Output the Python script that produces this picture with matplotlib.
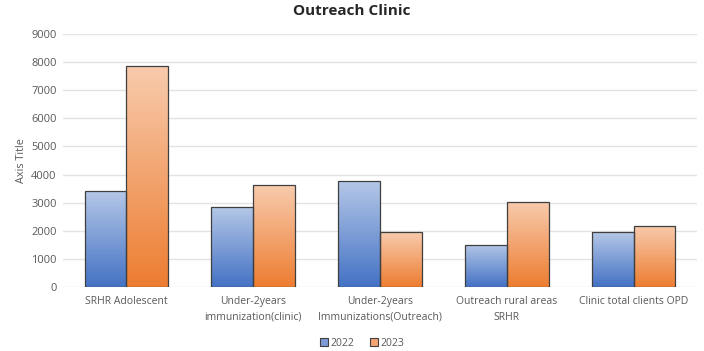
import numpy as np
import matplotlib
matplotlib.use("Agg")
import matplotlib.pyplot as plt
from matplotlib.colors import LinearSegmentedColormap
from matplotlib.patches import Patch

plt.rcParams['font.family'] = ['Open Sans', 'DejaVu Sans']

categories = ["SRHR Adolescent", "Under-2years\nimmunization(clinic)",
              "Under-2years\nImmunizations(Outreach)", "Outreach rural areas\nSRHR",
              "Clinic total clients OPD"]
series_names = ["2022", "2023"]
values_2022 = [3410, 2840, 3760, 1510, 1940]
values_2023 = [7860, 3620, 1940, 3040, 2170]
yticks = [0, 1000, 2000, 3000, 4000, 5000, 6000, 7000, 8000, 9000]

# light top -> saturated bottom
grad = {
    "2022": ("#4472c4", "#b4c7e7"),
    "2023": ("#ed7d31", "#f8cbad"),
}

fig = plt.figure(figsize=(7.04, 3.51), dpi=100)
ax = fig.add_axes([63 / 704, 1 - 287 / 351, 634 / 704, 253 / 351])

x = np.arange(len(categories))
w = 0.33
gray = "#595959"

for vals, name, off in [(values_2022, "2022", -w / 2), (values_2023, "2023", w / 2)]:
    cmap = LinearSegmentedColormap.from_list(name, grad[name])
    bars = ax.bar(x + off, vals, width=w, color="none", edgecolor="#3f3f3f",
                  linewidth=0.9, zorder=3)
    for b in bars:
        x0, y0 = b.get_x(), b.get_y()
        x1, y1 = x0 + b.get_width(), y0 + b.get_height()
        im = ax.imshow(np.linspace(0, 1, 256).reshape(-1, 1), cmap=cmap,
                       extent=[x0, x1, y0, y1], origin="lower", aspect="auto",
                       zorder=2)
        im.set_clip_path(b)

ax.set_xlim(-0.5, len(categories) - 0.5)
ax.set_ylim(0, 9000)
ax.set_yticks(yticks)
ax.set_xticks(x)
ax.set_xticklabels(categories, fontsize=7.5, color=gray, linespacing=1.6)
ax.tick_params(axis="y", labelsize=8, colors=gray, length=0, pad=4.5)
ax.tick_params(axis="x", length=0, pad=6.5)
ax.grid(axis="y", color="#e3e3e3", linewidth=1, zorder=0)
for s in ax.spines.values():
    s.set_visible(False)

ax.set_ylabel("Axis Title", fontsize=7.8, color=gray, labelpad=3)
fig.text(0.5, 1 - 11 / 351, "Outreach Clinic", ha="center", va="center",
         fontsize=11, fontweight="bold", color="#262626")

handles = [Patch(facecolor="#7d9ad6", edgecolor="#3f3f3f", linewidth=0.8),
           Patch(facecolor="#f3a470", edgecolor="#3f3f3f", linewidth=0.8)]
leg = fig.legend(handles, series_names, loc="center", bbox_to_anchor=(362 / 704, 1 - 343 / 351),
                 ncol=2, frameon=False, fontsize=7.5, handlelength=0.8, handleheight=0.8,
                 handletextpad=0.2, columnspacing=1.5)
for t in leg.get_texts():
    t.set_color(gray)

fig.savefig("out.png", dpi=100)
